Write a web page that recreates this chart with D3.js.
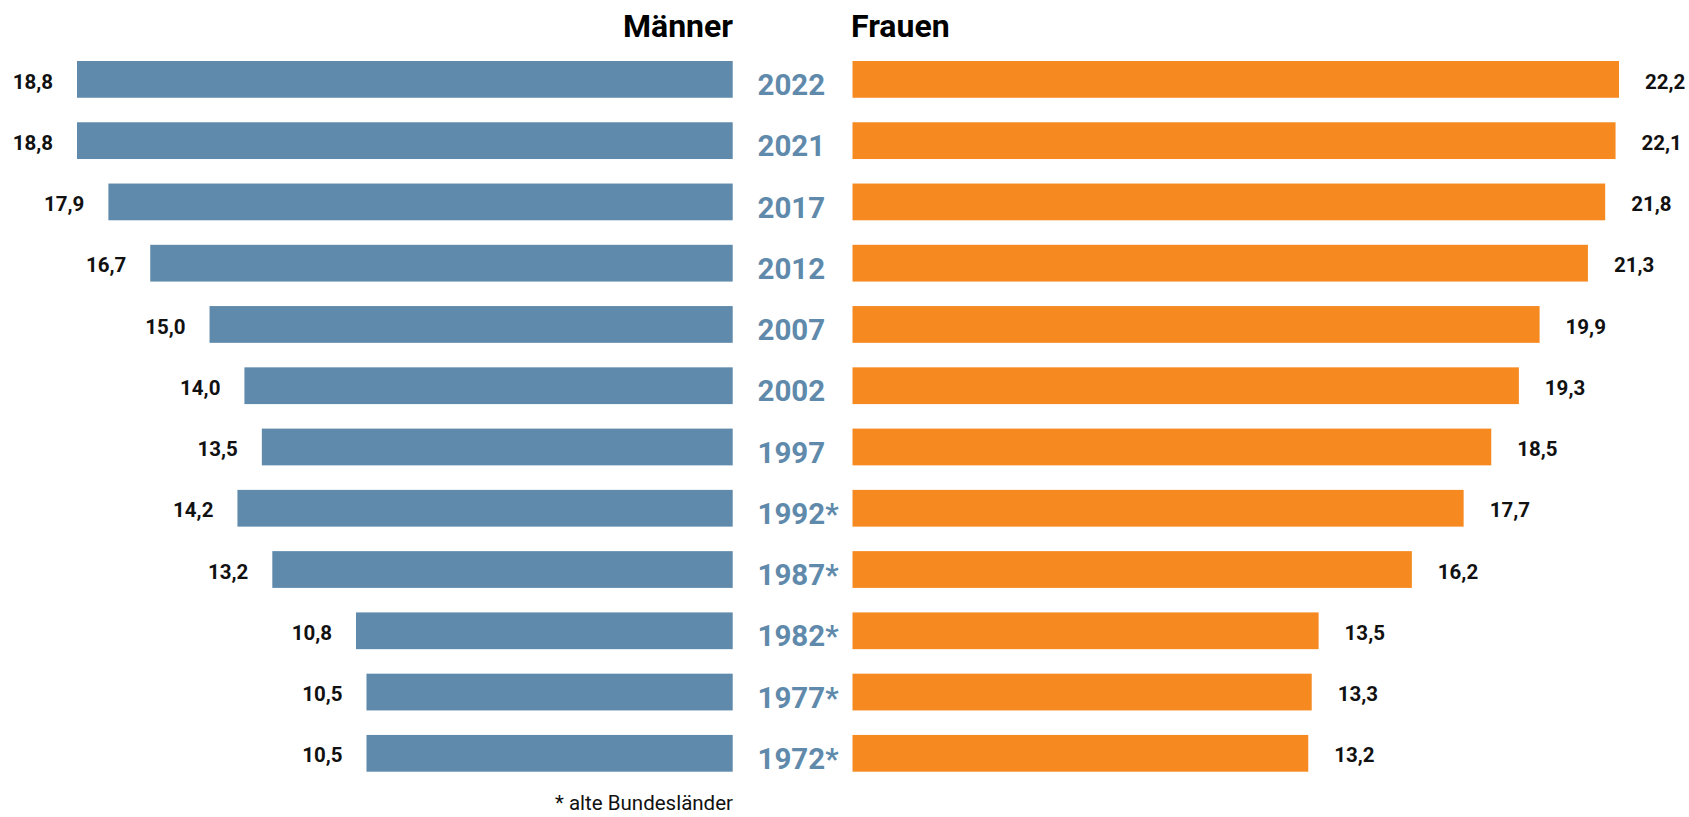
<!DOCTYPE html>
<html lang="de">
<head>
<meta charset="utf-8">
<script src="https://cdn.jsdelivr.net/npm/d3@7"></script>
<style>
  html, body { margin: 0; padding: 0; background: #fff; }
  svg { display: block; font-family: Roboto, "DejaVu Sans", sans-serif; }
</style>
</head>
<body>
<div id="chart"></div>
<script>
// values
const years = ['2022', '2021', '2017', '2012', '2007', '2002', '1997', '1992*', '1987*', '1982*', '1977*', '1972*'];
const men = [18.8, 18.8, 17.9, 16.7, 15.0, 14.0, 13.5, 14.2, 13.2, 10.8, 10.5, 10.5];
const women = [22.2, 22.1, 21.8, 21.3, 19.9, 19.3, 18.5, 17.7, 16.2, 13.5, 13.3, 13.2];
const seriesNames = ['Männer', 'Frauen'];
const footnote = '* alte Bundesländer';

const width = 1689;
const height = 817;
const blue = '#5f8aab';
const orange = '#f68920';

const de = d3.formatLocale({ decimal: ',', thousands: '.', grouping: [3], currency: ['', ' €'] });
const fmt = de.format('.1f');

const rows = years.map((y, i) => ({ year: y, m: men[i], w: women[i] }));

const svg = d3.select('#chart').append('svg')
  .attr('width', width)
  .attr('height', height);

const y = d3.scaleBand()
  .domain(years)
  .range([61, 771.7])
  .paddingInner(0.4)
  .paddingOuter(0);

// two half-axes meeting at the gap in the middle
const xm = d3.scaleLinear().domain([0, 18.8]).range([732.7, 77]);
const xw = d3.scaleLinear().domain([0, 22.2]).range([852.5, 1619]);

// men bars
svg.append('g').selectAll('rect')
  .data(rows)
  .join('rect')
    .attr('x', d => xm(d.m))
    .attr('y', d => y(d.year))
    .attr('width', d => xm(0) - xm(d.m))
    .attr('height', y.bandwidth())
    .attr('fill', blue);

// women bars
svg.append('g').selectAll('rect')
  .data(rows)
  .join('rect')
    .attr('x', xw(0))
    .attr('y', d => y(d.year))
    .attr('width', d => xw(d.w) - xw(0))
    .attr('height', y.bandwidth())
    .attr('fill', orange);

// value labels
svg.append('g').selectAll('text')
  .data(rows)
  .join('text')
    .attr('x', d => xm(d.m) - 24)
    .attr('y', d => y(d.year) + 27.5)
    .attr('text-anchor', 'end')
    .attr('font-size', 20.5)
    .attr('font-weight', 700)
    .attr('fill', '#111')
    .text(d => fmt(d.m));

svg.append('g').selectAll('text')
  .data(rows)
  .join('text')
    .attr('x', d => xw(d.w) + 26)
    .attr('y', d => y(d.year) + 27.5)
    .attr('font-size', 20.5)
    .attr('font-weight', 700)
    .attr('fill', '#111')
    .text(d => fmt(d.w));

// year labels in the middle
svg.append('g').selectAll('text')
  .data(rows)
  .join('text')
    .attr('x', 757.5)
    .attr('y', d => y(d.year) + 34)
    .attr('font-size', 29.5)
    .attr('font-weight', 700)
    .attr('fill', blue)
    .text(d => d.year);

// column headers
svg.append('text')
  .attr('x', 733)
  .attr('y', 36.5)
  .attr('text-anchor', 'end')
  .attr('font-size', 32)
  .attr('font-weight', 700)
  .attr('fill', '#000')
  .text(seriesNames[0]);

svg.append('text')
  .attr('x', 851)
  .attr('y', 36.5)
  .attr('font-size', 32)
  .attr('font-weight', 700)
  .attr('fill', '#000')
  .text(seriesNames[1]);

svg.append('text')
  .attr('x', 733)
  .attr('y', 810)
  .attr('text-anchor', 'end')
  .attr('font-size', 20.5)
  .attr('fill', '#111')
  .text(footnote);
</script>
</body>
</html>
